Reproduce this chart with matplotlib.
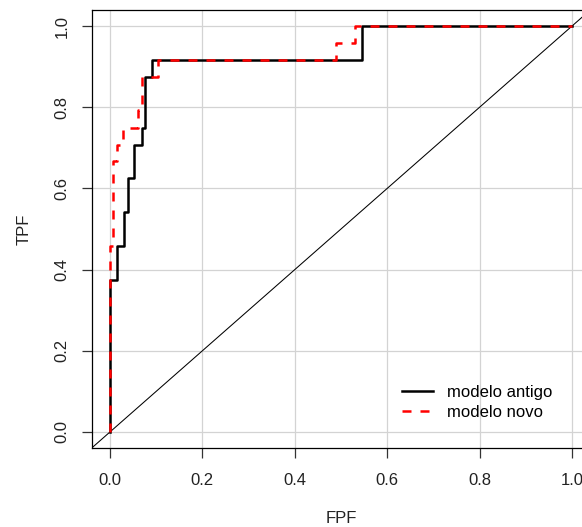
import matplotlib
matplotlib.use("Agg")
import matplotlib.pyplot as plt

plt.rcParams['font.family'] = ['Liberation Sans', 'DejaVu Sans']

# ROC curve corner points (end of each horizontal segment)
fpf_antigo = [0.0, 0.0158, 0.031, 0.038, 0.0526, 0.0685, 0.0757, 0.091, 0.545, 1.0]
tpf_antigo = [0.0, 0.375, 0.458, 0.542, 0.625, 0.708, 0.750, 0.875, 0.917, 1.0]

fpf_novo = [0.0, 0.007, 0.0144, 0.029, 0.060, 0.0685, 0.1045, 0.490, 0.530, 1.0]
tpf_novo = [0.0, 0.458, 0.667, 0.708, 0.750, 0.792, 0.875, 0.917, 0.958, 1.0]

ticks = [0.0, 0.2, 0.4, 0.6, 0.8, 1.0]
tick_labels = ["0.0", "0.2", "0.4", "0.6", "0.8", "1.0"]
series_labels = ["modelo antigo", "modelo novo"]

FS = 12

fig = plt.figure(figsize=(5.82, 5.27), dpi=100)
ax = fig.add_axes([91.5 / 582, 1 - 448.2 / 527, (590.5 - 91.5) / 582, (448.2 - 9.8) / 527])
ax.set_xlim(-0.04, 1.04)
ax.set_ylim(-0.04, 1.04)

for t in ticks:
    ax.axvline(t, color='#D3D3D3', lw=0.9, zorder=0)
    ax.axhline(t, color='#D3D3D3', lw=0.9, zorder=0)

ax.plot([-0.04, 1.04], [-0.04, 1.04], color='black', lw=0.75, zorder=1)

ax.plot(fpf_antigo, tpf_antigo, drawstyle='steps-pre', color='black', lw=1.8,
        label=series_labels[0], zorder=2)
ax.plot(fpf_novo, tpf_novo, drawstyle='steps-pre', color='red', lw=1.8,
        linestyle=(0, (3.6, 3.6)), label=series_labels[1], zorder=3)

ax.set_xticks(ticks)
ax.set_xticklabels(tick_labels)
ax.set_yticks(ticks)
ax.set_yticklabels(tick_labels, rotation=90, va='center')
ax.tick_params(axis='both', direction='out', length=7, width=0.9, labelsize=FS, colors='#333333')
ax.tick_params(axis='x', pad=10.5, labelcolor='#222222')
ax.tick_params(axis='y', pad=9, labelcolor='#222222')
for s in ax.spines.values():
    s.set_linewidth(0.9)
    s.set_color('black')

ax.set_xlabel("FPF", fontsize=FS, labelpad=17, color='#222222')
ax.set_ylabel("TPF", fontsize=FS, labelpad=16.5, color='#222222')

leg = ax.legend(loc='upper left', bbox_to_anchor=((402 - 91.5) / 499, (448.2 - 385) / 438.4),
                frameon=False, fontsize=FS, handlelength=1.85, handletextpad=0.85,
                labelspacing=0.3, borderaxespad=0, borderpad=0)

fig.savefig("out.png", dpi=100)
